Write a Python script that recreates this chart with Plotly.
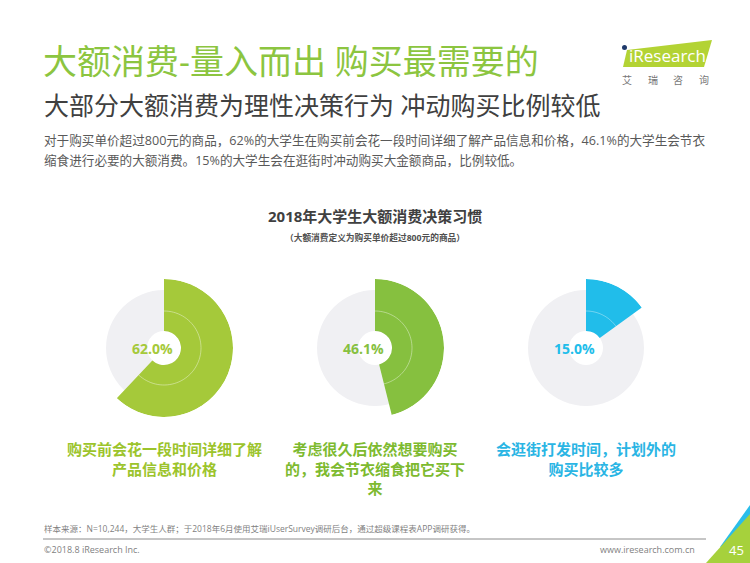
import plotly.graph_objects as go

W, H = 750, 563

# ---- data ----
categories = ["购买前会花一段时间详细了解<br>产品信息和价格",
              "考虑很久后依然想要购买<br>的，我会节衣缩食把它买下<br>来",
              "会逛街打发时间，计划外的<br>购买比较多"]
values = [62.0, 46.1, 15.0]
pct_labels = ["62.0%", "46.1%", "15.0%"]
colors = ["#a5c93a", "#86c03f", "#21bdea"]
label_colors = ["#9cc42c", "#7dba2f", "#2ab5e4"]

title = "大额消费-量入而出 购买最需要的"
subtitle = "大部分大额消费为理性决策行为 冲动购买比例较低"
body1 = "对于购买单价超过800元的商品，62%的大学生在购买前会花一段时间详细了解产品信息和价格，46.1%的大学生会节衣"
body2 = "缩食进行必要的大额消费。15%的大学生会在逛街时冲动购买大金额商品，比例较低。"
chart_title = "2018年大学生大额消费决策习惯"
chart_sub = "（大额消费定义为购买单价超过800元的商品）"
source = "样本来源：N=10,244，大学生人群；于2018年6月使用艾瑞iUserSurvey调研后台，通过超级课程表APP调研获得。"
copyright_txt = "©2018.8 iResearch Inc."
website = "www.iresearch.com.cn"
page_no = "45"

FONT = "Open Sans, Noto Sans CJK SC, sans-serif"


def px(x):
    return x / W


def py(y):
    return 1 - y / H


centers = [164, 375, 586]
cy = 348
R_OUT = 69
R_GRAY = 58
R_HOLE = 17
R_LINE = 37

fig = go.Figure()
layout_polars = {}
annotations = []

for i, (cx, v) in enumerate(zip(centers, values)):
    pname = "polar" if i == 0 else f"polar{i+1}"
    sub = "polar" if i == 0 else f"polar{i+1}"
    # gray full ring
    fig.add_trace(go.Barpolar(r=[R_GRAY - R_HOLE, R_GRAY - R_HOLE], base=[R_HOLE, R_HOLE],
                              theta=[90, 270], width=[180, 180],
                              marker=dict(color="#f0f0f3", line=dict(width=0)),
                              subplot=sub, showlegend=False, hoverinfo="skip"))
    # value wedge
    fig.add_trace(go.Barpolar(r=[R_OUT - R_HOLE], base=[R_HOLE],
                              theta=[v * 3.6 / 2], width=[v * 3.6],
                              marker=dict(color=colors[i], line=dict(width=0)),
                              subplot=sub, showlegend=False))
    # faint inner guide arc across the wedge
    n = 60
    th = [v * 3.6 * t / n for t in range(n + 1)]
    fig.add_trace(go.Scatterpolar(r=[R_LINE] * len(th), theta=th, mode="lines",
                                  line=dict(color="rgba(255,255,255,0.4)", width=1),
                                  subplot=sub, showlegend=False, hoverinfo="skip"))
    layout_polars[pname] = dict(
        domain=dict(x=[px(cx - R_OUT), px(cx + R_OUT)],
                    y=[py(cy + R_OUT), py(cy - R_OUT)]),
        bgcolor="rgba(0,0,0,0)",
        radialaxis=dict(range=[0, R_OUT], visible=False, showgrid=False),
        angularaxis=dict(visible=False, showgrid=False, direction="clockwise", rotation=90),
        bargap=0,
    )
    annotations.append(dict(x=px(cx - 12), y=py(cy), xref="paper", yref="paper",
                            text=f"<b>{pct_labels[i]}</b>", showarrow=False,
                            font=dict(family=FONT, size=14, color=colors[i]),
                            xanchor="center", yanchor="middle"))
    annotations.append(dict(x=px(cx), y=py(437), xref="paper", yref="paper",
                            text=f"<b>{categories[i]}</b>", showarrow=False, align="center",
                            font=dict(family=FONT, size=15, color=label_colors[i]),
                            xanchor="center", yanchor="top"))


def txt(x, y, s, size, color, anchor="left", bold=False, family=FONT):
    annotations.append(dict(x=px(x), y=py(y), xref="paper", yref="paper",
                            text=f"<b>{s}</b>" if bold else s, showarrow=False,
                            font=dict(family=family, size=size, color=color),
                            xanchor=anchor, yanchor="middle"))


txt(41, 61, title, 34, "#8cc540")
txt(42, 105, subtitle, 25, "#404040")
txt(42, 140, body1, 12.6, "#595959")
txt(42, 160, body2, 12.6, "#595959")
txt(375, 216, chart_title, 15, "#404040", anchor="center", bold=True)
txt(375, 238, chart_sub, 8.7, "#505050", anchor="center", bold=True)
txt(42, 528, source, 8.5, "#7f7f7f")
txt(42, 549, copyright_txt, 9, "#7f7f7f")
txt(697, 549, website, 9, "#7f7f7f", anchor="right")

# logo
txt(667, 55, "iResearch", 17, "#ffffff", anchor="center")
for k, ch in enumerate(["艾", "瑞", "咨", "询"]):
    txt(627 + k * 25.5, 80, ch, 10, "#777777", anchor="center")

# page number
txt(736, 550, page_no, 13, "#ffffff", anchor="center")

shapes = [
    # logo parallelogram
    dict(type="path", xref="paper", yref="paper", layer="below",
         path=f"M {px(627)},{py(50)} L {px(712)},{py(40)} L {px(704)},{py(67)} L {px(623)},{py(67)} Z",
         fillcolor="#b3d334", line=dict(width=0)),
    dict(type="circle", xref="paper", yref="paper",
         x0=px(622), x1=px(627), y0=py(50), y1=py(45), fillcolor="#1f3a6b", line=dict(width=0)),
    # footer separator
    dict(type="line", xref="paper", yref="paper", x0=px(43), x1=px(706), y0=py(539), y1=py(539),
         line=dict(color="#8c8c8c", width=1)),
    # corner decoration
    dict(type="path", xref="paper", yref="paper", layer="below",
         path=f"M {px(720)},{py(547)} L {px(750)},{py(505)} L {px(750)},{py(540)} Z",
         fillcolor="#29bdea", line=dict(width=0)),
    dict(type="path", xref="paper", yref="paper", layer="below",
         path=f"M {px(706)},{py(563)} L {px(750)},{py(514)} L {px(750)},{py(563)} Z",
         fillcolor="#a6d13c", line=dict(width=0)),
]

fig.update_layout(
    width=W, height=H,
    margin=dict(l=0, r=0, t=0, b=0),
    paper_bgcolor="#ffffff", plot_bgcolor="#ffffff",
    showlegend=False,
    annotations=annotations,
    shapes=shapes,
    **layout_polars,
)

fig.write_html("out.html", config={"displayModeBar": False},
               post_script="document.body.style.margin='0';document.body.style.overflow='hidden';")
